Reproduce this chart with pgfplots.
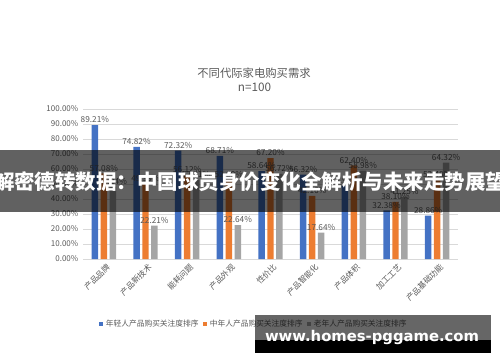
\documentclass[border=0pt]{standalone}
\usepackage{pgfplots}
\pgfplotsset{compat=1.18}
\usepackage{fontspec}
\usepackage{graphicx}
\setmainfont{Noto Sans CJK SC}
\newfontfamily\wmfont{DejaVu Sans}
\definecolor{cblue}{HTML}{4472C4}
\definecolor{corange}{HTML}{ED7D31}
\definecolor{cgray}{HTML}{A5A5A5}
\definecolor{txt}{HTML}{595959}
\definecolor{gridc}{HTML}{D9D9D9}
\begin{document}
\begin{tikzpicture}
\useasboundingbox (0,0) rectangle (375pt,271.5pt);
\begin{axis}[
  at={(62.25pt,77.25pt)}, anchor=south west,
  scale only axis, width=281.25pt, height=112.5pt,
  xmin=-0.5, xmax=8.5, ymin=0, ymax=100,
  ytick={0,10,...,100},
  xtick={0,...,8},
  xticklabels={产品品牌,产品新技术,能耗问题,产品外观,性价比,产品智能化,产品体积,加工工艺,产品基础功能},
  axis line style={draw=none},
  major tick length=0pt,
  ymajorgrids, grid style={draw=gridc, line width=0.6pt},
  /pgf/number format/assume math mode=true,
  yticklabel={\pgfmathprintnumber[fixed,fixed zerofill,precision=2]{\tick}\%},
  ticklabel style={font=\fontsize{6}{7}\selectfont, text=txt},
  xticklabel style={rotate=45, anchor=north east, inner sep=1pt, yshift=-2pt},
  ybar, bar width=0.155,
  nodes near coords={\pgfmathprintnumber[fixed,fixed zerofill,precision=2]{\pgfplotspointmeta}\%},
  nodes near coords style={font=\fontsize{6.2}{7}\selectfont, text=txt, inner sep=1.5pt},
  legend style={at={(0.456,-0.433)}, anchor=center, draw=none, fill=none,
    legend columns=3, font=\fontsize{5.8}{7}\selectfont, text=txt,
    /tikz/every even column/.append style={column sep=1pt}},
  legend image code/.code={\fill[#1] (0pt,-1.6pt) rectangle (3.4pt,1.8pt);},
]
\addplot[fill=cblue, draw=none, bar shift=-0.215] coordinates {(0,89.21) (1,74.82) (2,72.32) (3,68.71) (4,58.64) (5,56.32) (6,48.92) (7,32.38) (8,28.86)};
\addplot[fill=corange, draw=none, bar shift=0] coordinates {(0,57.08) (1,49.99) (2,56.12) (3,52.69) (4,67.20) (5,42.16) (6,62.40) (7,38.10) (8,52.48)};
\addplot[fill=cgray, draw=none, bar shift=0.215] coordinates {(0,48.24) (1,22.21) (2,52.81) (3,22.64) (4,56.72) (5,17.64) (6,58.98) (7,41.25) (8,64.32)};
\legend{年轻人产品购买关注度排序,中年人产品购买关注度排序,老年人产品购买关注度排序}
\end{axis}
\begin{scope}[x=0.75pt, y=-0.75pt, shift={(0,271.5pt)}]
\node[text=txt, font=\fontsize{8.5}{10}\selectfont] at (254,73) {不同代际家电购买需求};
\node[text=txt, font=\fontsize{8.8}{10}\selectfont] at (254.5,87) {n=100};
\fill[black, opacity=0.62] (0,150) rectangle (500,212);
\node[text=white, inner sep=0pt] at (250,182) {\resizebox{384pt}{!}{\bfseries 解密德转数据：中国球员身价变化全解析与未来走势展望}};
\fill[black, opacity=0.6] (255,315) rectangle (491,340);
\fill[black] (255,340) rectangle (491,353);
\node[text=white, inner sep=0pt] at (372,337) {\resizebox{160.5pt}{!}{\wmfont\bfseries www.homes-pggame.com}};
\end{scope}
\end{tikzpicture}
\end{document}
